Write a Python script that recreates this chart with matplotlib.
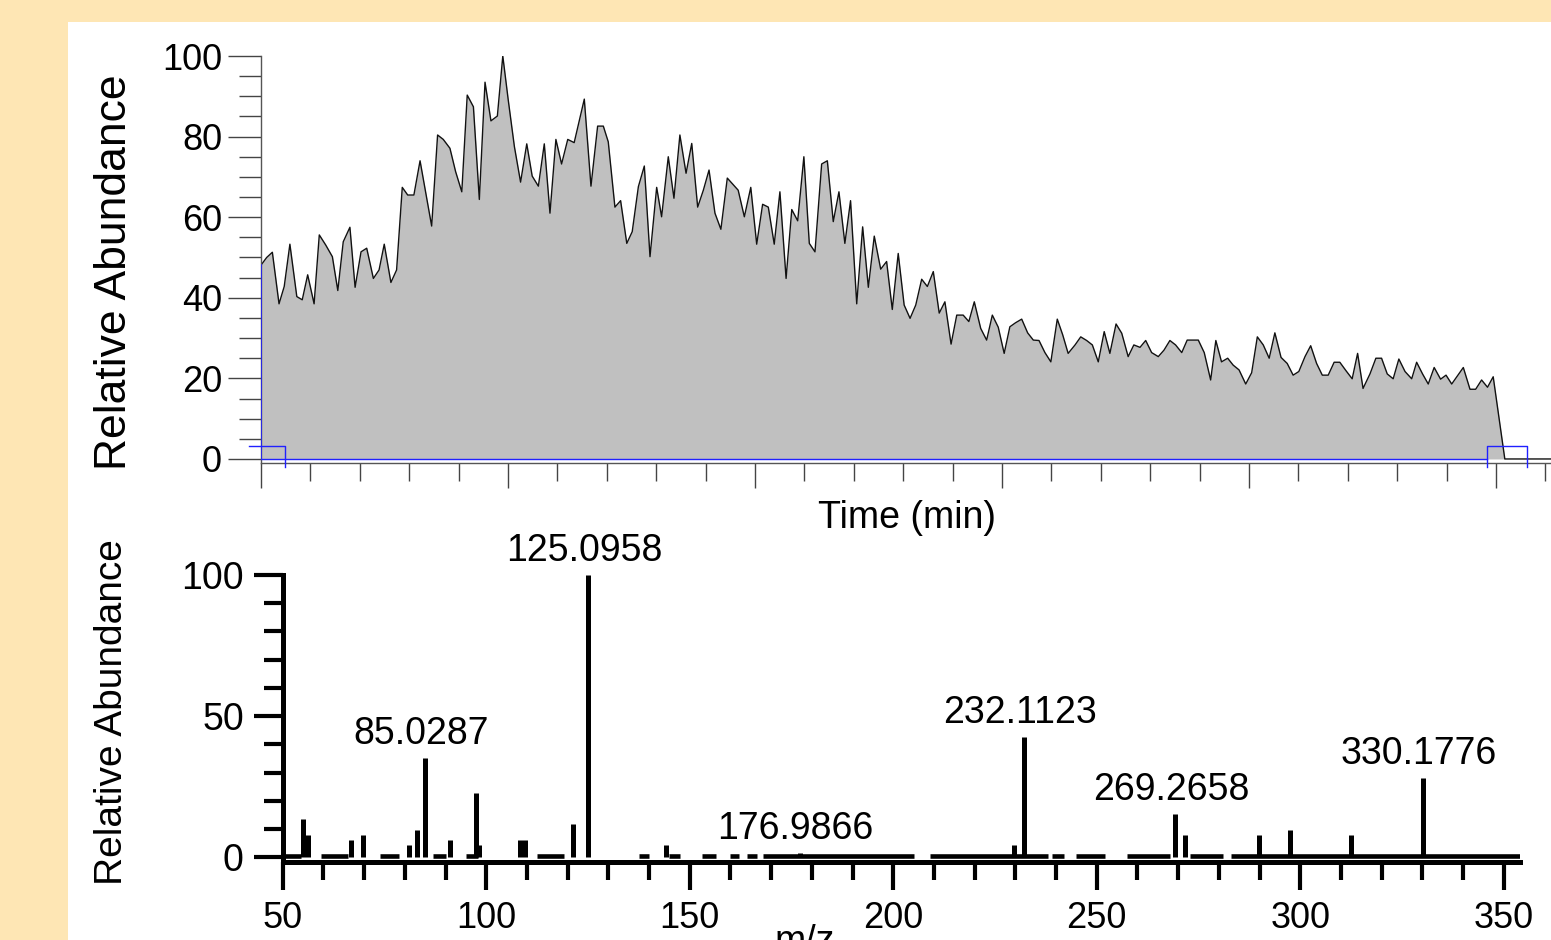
import matplotlib
matplotlib.use('Agg')
import matplotlib.pyplot as plt
from matplotlib.patches import Rectangle
from matplotlib.ticker import MultipleLocator

plt.rcParams['font.family'] = ['Liberation Sans', 'DejaVu Sans']

# chromatogram: retention time (min) vs relative abundance
rt = [0.000, 0.023, 0.046, 0.073, 0.094, 0.117, 0.145, 0.167, 0.189, 0.215,
      0.236, 0.262, 0.289, 0.311, 0.333, 0.360, 0.381, 0.405, 0.428, 0.455,
      0.478, 0.499, 0.526, 0.549, 0.572, 0.594, 0.619, 0.644, 0.691, 0.715,
      0.738, 0.765, 0.788, 0.813, 0.835, 0.860, 0.884, 0.907, 0.931, 0.957,
      0.979, 1.001, 1.026, 1.051, 1.076, 1.098, 1.123, 1.147, 1.170, 1.194,
      1.217, 1.242, 1.268, 1.309, 1.336, 1.363, 1.386, 1.406, 1.433, 1.456,
      1.481, 1.503, 1.528, 1.552, 1.575, 1.602, 1.622, 1.649, 1.672, 1.696,
      1.721, 1.744, 1.768, 1.791, 1.814, 1.838, 1.862, 1.888, 1.932, 1.957,
      1.983, 2.007, 2.031, 2.054, 2.078, 2.101, 2.126, 2.149, 2.173, 2.198,
      2.220, 2.243, 2.270, 2.293, 2.317, 2.340, 2.364, 2.387, 2.412, 2.436,
      2.459, 2.483, 2.509, 2.533, 2.556, 2.580, 2.604, 2.628, 2.651, 2.675,
      2.698, 2.722, 2.746, 2.769, 2.794, 2.817, 2.843, 2.866, 2.888, 2.914,
      2.938, 2.961, 2.985, 3.009, 3.032, 3.055, 3.080, 3.104, 3.127, 3.150,
      3.174, 3.198, 3.224, 3.246, 3.268, 3.296, 3.319, 3.343, 3.366, 3.390,
      3.414, 3.437, 3.462, 3.485, 3.511, 3.534, 3.559, 3.582, 3.606, 3.633,
      3.656, 3.680, 3.703, 3.728, 3.750, 3.795, 3.819, 3.845, 3.866, 3.889,
      3.914, 3.936, 3.960, 3.987, 4.011, 4.034, 4.058, 4.082, 4.105, 4.130,
      4.155, 4.179, 4.202, 4.227, 4.250, 4.274, 4.297, 4.321, 4.345, 4.368,
      4.393, 4.418, 4.440, 4.462, 4.490, 4.514, 4.537, 4.560, 4.584, 4.607,
      4.632, 4.659, 4.679, 4.703, 4.726, 4.750, 4.776, 4.798, 4.821, 4.868,
      4.895, 4.918, 4.942, 4.966, 4.989, 5.036, 5.223]
tic = [48.1, 50.0, 51.3, 38.5, 42.8, 53.3, 40.3, 39.5, 45.7, 38.5,
       55.6, 53.1, 50.2, 41.8, 53.9, 57.5, 42.6, 51.4, 52.3, 44.8,
       46.9, 53.3, 43.8, 46.9, 67.4, 65.5, 65.5, 74.0, 57.8, 80.4,
       79.3, 77.1, 71.3, 66.3, 90.3, 87.4, 64.4, 93.5, 83.9, 85.1,
       100.0, 89.1, 77.5, 68.7, 78.2, 70.2, 67.7, 78.2, 61.0, 79.3,
       73.2, 79.3, 78.5, 89.3, 67.7, 82.6, 82.6, 78.7, 62.5, 64.1,
       53.5, 56.4, 67.6, 72.7, 50.2, 67.4, 60.1, 75.0, 64.7, 80.4,
       70.9, 78.3, 62.5, 66.7, 71.7, 61.0, 57.0, 69.7, 66.7, 60.1,
       67.4, 53.3, 63.2, 62.5, 53.3, 66.3, 44.8, 61.9, 59.1, 75.0,
       53.5, 51.4, 73.2, 74.0, 58.9, 66.3, 53.5, 64.1, 38.5, 57.6,
       42.6, 55.3, 47.1, 49.0, 37.1, 51.0, 38.2, 34.9, 38.2, 44.6,
       42.8, 46.5, 36.2, 39.0, 28.5, 35.7, 35.7, 34.1, 39.0, 32.4,
       29.5, 35.7, 32.7, 26.2, 32.8, 33.8, 34.7, 31.3, 29.5, 29.4,
       26.4, 24.1, 34.7, 30.8, 26.2, 28.3, 30.3, 29.4, 28.3, 24.1,
       31.6, 26.2, 33.5, 31.2, 25.4, 28.3, 27.7, 29.4, 26.4, 25.4,
       27.0, 29.4, 28.3, 26.4, 29.5, 29.5, 26.4, 19.6, 29.4, 24.1,
       25.0, 23.3, 22.1, 18.6, 21.4, 30.3, 28.3, 25.0, 31.3, 25.2,
       23.7, 20.8, 21.7, 25.4, 28.1, 23.7, 20.8, 20.8, 24.0, 24.0,
       21.9, 19.9, 26.2, 17.5, 21.1, 25.0, 25.0, 21.1, 19.9, 24.8,
       21.7, 19.9, 24.0, 21.1, 18.6, 22.7, 19.8, 20.8, 18.6, 22.7,
       17.3, 17.3, 19.6, 17.8, 20.4, 0.0, 0.0]

# integration markers (min)
peak_start = 0.0
peak_end = 4.964
mark_left = (-0.049, 0.097)
mark_right = (4.964, 5.126)
mark_top, mark_bottom = 3.2, -1.9

# mass spectrum
mz = [55.1, 56.3, 66.8, 69.8, 81.0, 83.0, 85.0287, 91.0, 97.5, 98.2,
      108.3, 109.5, 121.3, 125.0958, 144.2, 176.9866, 229.6, 232.1123,
      269.2658, 271.6, 289.9, 297.6, 312.6, 330.1776]
intensity = [13.5, 7.9, 6.1, 7.9, 4.4, 9.7, 35.1, 6.1, 22.7, 4.4,
             6.1, 6.1, 11.8, 100.0, 4.4, 1.5, 4.4, 42.5,
             15.4, 7.9, 7.9, 9.7, 7.9, 28.0]
labelled = ['85.0287', '125.0958', '176.9866', '232.1123', '269.2658', '330.1776']
noise = [(50, 54.5), (59.5, 66), (74, 78.5), (87, 90), (95, 98), (112.5, 119),
         (137.5, 140), (145, 147.5), (153, 156.5), (160, 162), (164, 166.5),
         (168, 205), (209, 238), (239, 242), (245, 252), (257.5, 268),
         (273, 281), (283, 354)]

W, H = 1551, 940
fig = plt.figure(figsize=(W / 100, H / 100), dpi=100)
fig.patch.set_facecolor('#FEE6B4')
fig.patches.append(Rectangle((68 / W, 0), 1 - 68 / W, 1 - 22 / H,
                             transform=fig.transFigure, facecolor='white',
                             edgecolor='none', zorder=-10))

# ---- chromatogram ----
ax1 = fig.add_axes([261 / W, 1 - 463 / H, (W - 261) / W, 407 / H])
ax1.patch.set_alpha(0)
ax1.fill_between(rt, tic, 0, color='#C0C0C0', lw=0)
ax1.plot(rt, tic, color='#111111', lw=1.0)
ax1.plot([peak_start, peak_end], [0, 0], color='#2020ff', lw=1.0, zorder=4)
ax1.plot([peak_start, peak_start], [0, tic[0]], color='#2020ff', lw=1.2, zorder=4)
ax1.plot([mark_left[0], mark_left[1], mark_left[1]], [mark_top, mark_top, mark_bottom],
         color='#2020ff', lw=1.0, clip_on=False, zorder=5)
ax1.plot([mark_right[0], mark_right[0], mark_right[1], mark_right[1]],
         [mark_bottom, mark_top, mark_top, mark_bottom],
         color='#2020ff', lw=1.0, clip_on=False, zorder=5)
ax1.set_xlim(0, 5.223)
ax1.set_ylim(-1.0, 100)
for s in ['top', 'right']:
    ax1.spines[s].set_visible(False)
for s in ['left', 'bottom']:
    ax1.spines[s].set_color('#555555')
    ax1.spines[s].set_linewidth(1.0)
ax1.yaxis.set_major_locator(MultipleLocator(20))
ax1.yaxis.set_minor_locator(MultipleLocator(5))
ax1.xaxis.set_major_locator(MultipleLocator(1))
ax1.xaxis.set_minor_locator(MultipleLocator(0.2))
ax1.tick_params(axis='y', which='major', length=24, width=1.0, color='#444444',
                labelsize=26, pad=4)
ax1.tick_params(axis='y', which='minor', length=16, width=1.0, color='#444444')
ax1.tick_params(axis='x', which='major', length=18, width=1.0, color='#444444',
                labelbottom=False)
ax1.tick_params(axis='x', which='minor', length=13, width=1.0, color='#444444')
fig.text(115 / W, 1 - 272 / H, 'Relative Abundance', rotation=90,
         ha='center', va='center', fontsize=32)
fig.text(907 / W, 1 - 518 / H, 'Time (min)', ha='center', va='center', fontsize=27)

# ---- mass spectrum ----
ax2 = fig.add_axes([282.7 / W, 1 - 862 / H, (1520 - 282.7) / W, 287 / H])
ax2.patch.set_alpha(0)
for a, b in noise:
    ax2.hlines(0.5, a, b, color='black', lw=3.3)
ax2.vlines(mz, 0, intensity, color='black', lw=3.6, clip_on=False)
for lab in labelled:
    i = mz.index(float(lab))
    ax2.annotate(lab, xy=(mz[i], intensity[i]), xytext=(-3, 10),
                 textcoords='offset points', ha='center', va='baseline',
                 fontsize=27, annotation_clip=False)
ax2.set_xlim(50, 354)
ax2.set_ylim(-1.7, 100)
for s in ['top', 'right']:
    ax2.spines[s].set_visible(False)
for s in ['left', 'bottom']:
    ax2.spines[s].set_linewidth(3.6)
ax2.set_yticks([0, 50, 100])
ax2.yaxis.set_minor_locator(MultipleLocator(10))
ax2.xaxis.set_major_locator(MultipleLocator(50))
ax2.xaxis.set_minor_locator(MultipleLocator(10))
ax2.tick_params(axis='y', which='major', length=21, width=3.0, labelsize=27, pad=7)
ax2.tick_params(axis='y', which='minor', length=14, width=3.0)
ax2.tick_params(axis='x', which='major', length=20, width=3.0, labelsize=26, pad=8)
ax2.tick_params(axis='x', which='minor', length=13, width=3.0)
fig.text(112 / W, 1 - 712 / H, 'Relative Abundance', rotation=90,
         ha='center', va='center', fontsize=28)
fig.text(805 / W, 1 - 952 / H, 'm/z', ha='center', va='baseline', fontsize=27)

fig.savefig('out.png', dpi=100)
